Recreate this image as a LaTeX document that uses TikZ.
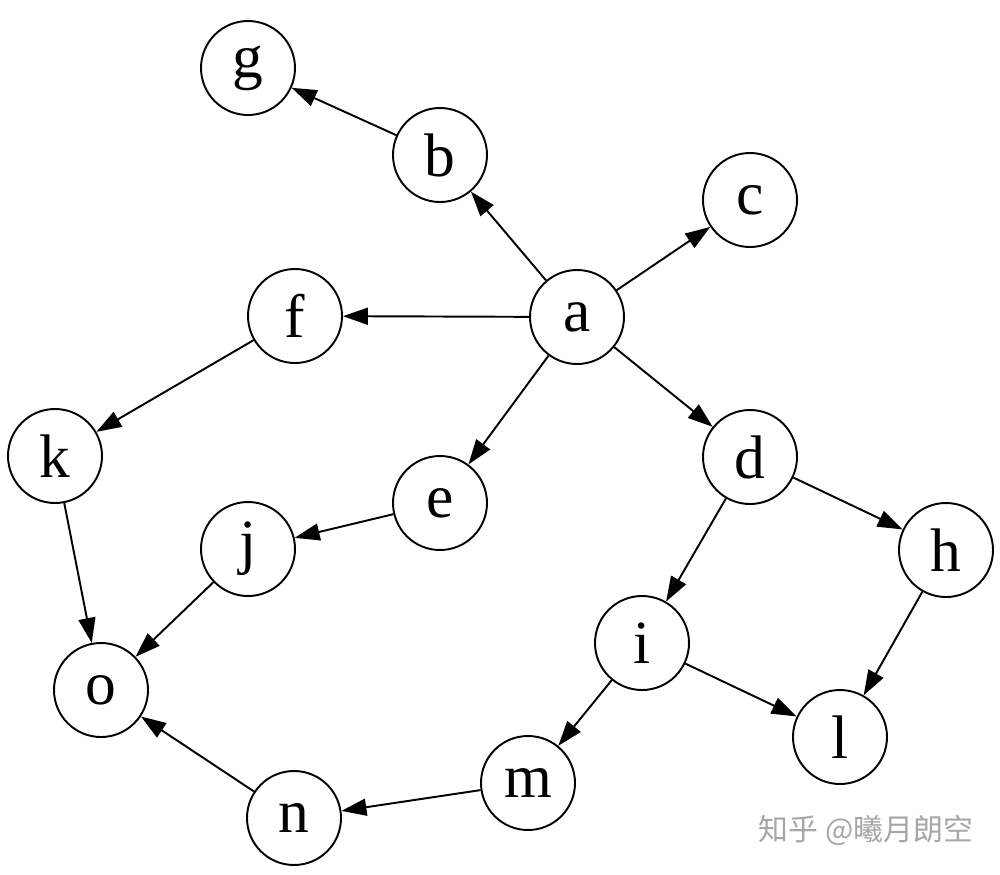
\documentclass[tikz,border=0pt]{standalone}
\usepackage{fontspec}
\setmainfont{Liberation Serif}
\newfontfamily\cjkfont{Noto Sans CJK SC}
\usetikzlibrary{arrows.meta}

\begin{document}
\begin{tikzpicture}[x=0.2mm,y=-0.2mm,
    vertex/.style={draw,circle,line width=1.1pt,minimum size=1.88cm,inner sep=0pt,
      font=\fontsize{35}{40}\selectfont},
    edge/.style={line width=1.1pt,-{Triangle[length=0.5cm,width=0.34cm]}}]
    \useasboundingbox (0,0) rectangle (1000,874);
    % vertices
    \node[vertex] (g) at (248,68) {g};
    \node[vertex] (b) at (440,155) {b};
    \node[vertex] (c) at (750,200) {c};
    \node[vertex] (a) at (577,317) {a};
    \node[vertex] (f) at (295,316) {f};
    \node[vertex] (k) at (55,456) {k};
    \node[vertex] (d) at (750,457) {d};
    \node[vertex] (e) at (440,503) {e};
    \node[vertex] (j) at (248,549) {j};
    \node[vertex] (h) at (946,550) {h};
    \node[vertex] (i) at (642,643) {i};
    \node[vertex] (o) at (101,690) {o};
    \node[vertex] (l) at (840,737) {l};
    \node[vertex] (m) at (528,783) {m};
    \node[vertex] (n) at (294,818) {n};
    % edges
    \draw[edge] (a) -- (b);
    \draw[edge] (a) -- (c);
    \draw[edge] (a) -- (f);
    \draw[edge] (a) -- (e);
    \draw[edge] (a) -- (d);
    \draw[edge] (b) -- (g);
    \draw[edge] (f) -- (k);
    \draw[edge] (k) -- (o);
    \draw[edge] (e) -- (j);
    \draw[edge] (j) -- (o);
    \draw[edge] (d) -- (h);
    \draw[edge] (d) -- (i);
    \draw[edge] (h) -- (l);
    \draw[edge] (i) -- (l);
    \draw[edge] (i) -- (m);
    \draw[edge] (m) -- (n);
    \draw[edge] (n) -- (o);
    % watermark
    \node[text=black!35,font=\cjkfont\fontsize{17}{20}\selectfont] (mark) at (866,830) {知乎 @曦月朗空};
\end{tikzpicture}
\end{document}
